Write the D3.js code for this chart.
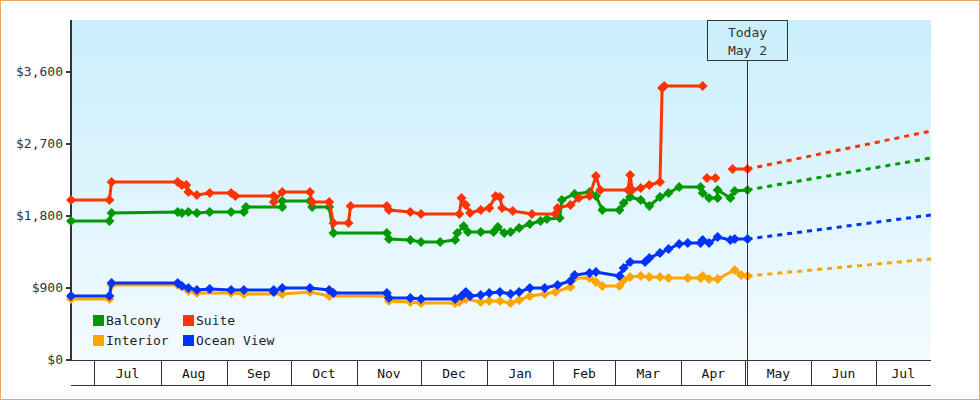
<!DOCTYPE html>
<html><head><meta charset="utf-8">
<script src="https://cdn.jsdelivr.net/npm/d3@7"></script>
<style>body{margin:0;background:#fff}svg{display:block;font-family:"DejaVu Sans Mono",monospace}</style>
</head><body><svg id="c" width="980" height="400"></svg>
<script>
const balcony = [["2023-06-20",1737],["2023-07-08",1737],["2023-07-09",1837],["2023-08-09",1850],["2023-08-11",1837],["2023-08-14",1850],["2023-08-18",1837],["2023-08-24",1850],["2023-09-03",1850],["2023-09-09",1850],["2023-09-10",1912],["2023-09-27",1912],["2023-09-27",1987],["2023-10-10",1987],["2023-10-11",1912],["2023-10-19",1912],["2023-10-21",1587],["2023-11-15",1587],["2023-11-16",1512],["2023-11-26",1500],["2023-12-01",1475],["2023-12-10",1475],["2023-12-17",1500],["2023-12-18",1587],["2023-12-21",1675],["2023-12-23",1600],["2023-12-29",1600],["2024-01-04",1600],["2024-01-06",1662],["2024-01-09",1587],["2024-01-12",1600],["2024-01-16",1650],["2024-01-21",1700],["2024-01-26",1737],["2024-01-29",1762],["2024-02-04",1775],["2024-02-05",2000],["2024-02-11",2075],["2024-02-18",2100],["2024-02-21",2050],["2024-02-24",1875],["2024-03-03",1875],["2024-03-05",1962],["2024-03-08",2037],["2024-03-13",2000],["2024-03-17",1925],["2024-03-22",2037],["2024-03-26",2087],["2024-03-31",2162],["2024-04-10",2162],["2024-04-11",2087],["2024-04-14",2025],["2024-04-18",2025],["2024-04-18",2125],["2024-04-24",2025],["2024-04-26",2112],["2024-05-02",2125]];
const suite = [["2023-06-20",2000],["2023-07-08",2000],["2023-07-09",2225],["2023-08-09",2225],["2023-08-11",2187],["2023-08-13",2187],["2023-08-14",2100],["2023-08-18",2062],["2023-08-24",2087],["2023-09-03",2087],["2023-09-05",2050],["2023-09-23",2050],["2023-09-23",1975],["2023-09-27",2100],["2023-10-10",2100],["2023-10-11",1975],["2023-10-19",1975],["2023-10-21",1712],["2023-10-28",1712],["2023-10-29",1925],["2023-11-15",1925],["2023-11-16",1875],["2023-11-26",1850],["2023-12-01",1825],["2023-12-19",1825],["2023-12-20",2025],["2023-12-22",1937],["2023-12-24",1837],["2023-12-29",1875],["2024-01-02",1900],["2024-01-05",2050],["2024-01-07",2037],["2024-01-08",1900],["2024-01-13",1862],["2024-01-22",1825],["2024-02-02",1825],["2024-02-03",1900],["2024-02-09",1937],["2024-02-13",2025],["2024-02-18",2050],["2024-02-21",2300],["2024-02-23",2125],["2024-03-07",2125],["2024-03-08",2312],["2024-03-09",2125],["2024-03-13",2150],["2024-03-17",2187],["2024-03-22",2225],["2024-03-23",3400],["2024-03-24",3425],["2024-04-11",3425],null,["2024-04-13",2275],["2024-04-17",2275],null,["2024-04-25",2387],["2024-05-02",2387]];
const oceanView = [["2023-06-20",800],["2023-07-08",800],["2023-07-09",962],["2023-08-09",962],["2023-08-11",925],["2023-08-14",900],["2023-08-18",875],["2023-08-24",887],["2023-09-03",875],["2023-09-09",875],["2023-09-23",875],["2023-09-23",850],["2023-09-27",900],["2023-10-10",900],["2023-10-19",875],["2023-10-21",837],["2023-11-15",837],["2023-11-16",775],["2023-11-26",775],["2023-12-01",762],["2023-12-17",762],["2023-12-20",800],["2023-12-22",850],["2023-12-24",800],["2023-12-29",812],["2024-01-02",837],["2024-01-07",850],["2024-01-12",825],["2024-01-16",850],["2024-01-21",900],["2024-01-28",900],["2024-02-03",937],["2024-02-09",987],["2024-02-11",1062],["2024-02-18",1087],["2024-02-21",1100],["2024-03-03",1050],["2024-03-05",1150],["2024-03-08",1225],["2024-03-15",1225],["2024-03-17",1275],["2024-03-22",1337],["2024-03-26",1387],["2024-03-31",1450],["2024-04-04",1462],["2024-04-10",1462],["2024-04-11",1500],["2024-04-14",1462],["2024-04-18",1537],["2024-04-24",1500],["2024-04-26",1512],["2024-05-02",1512]];
const interior = [["2023-06-20",762],["2023-07-08",762],["2023-07-09",937],["2023-08-09",937],["2023-08-14",862],["2023-08-18",837],["2023-09-03",837],["2023-09-09",825],["2023-09-27",825],["2023-10-10",850],["2023-10-19",800],["2023-11-15",800],["2023-11-16",737],["2023-11-26",725],["2023-12-01",712],["2023-12-17",712],["2023-12-19",725],["2023-12-22",762],["2023-12-29",725],["2024-01-02",737],["2024-01-07",737],["2024-01-12",712],["2024-01-16",750],["2024-01-21",800],["2024-01-28",825],["2024-02-02",850],["2024-02-09",912],["2024-02-11",1025],["2024-02-18",1025],["2024-02-21",975],["2024-02-24",925],["2024-03-03",925],["2024-03-05",1000],["2024-03-08",1037],["2024-03-13",1050],["2024-03-17",1037],["2024-03-22",1037],["2024-03-26",1025],["2024-04-04",1025],["2024-04-10",1025],["2024-04-11",1050],["2024-04-14",1012],["2024-04-18",1012],["2024-04-26",1125],["2024-04-29",1062],["2024-05-02",1050]];
const forecast = {Balcony:[["2024-05-02",2125],["2024-07-27",2525]],Suite:[["2024-05-02",2387],["2024-07-27",2862]],"Ocean View":[["2024-05-02",1512],["2024-07-27",1812]],Interior:[["2024-05-02",1050],["2024-07-27",1262]]};
const yTicks = [0,900,1800,2700,3600];
const monthTicks = ["2023-07-01","2023-08-01","2023-09-01","2023-10-01","2023-11-01","2023-12-01","2024-01-01","2024-02-01","2024-03-01","2024-04-01","2024-05-01","2024-06-01","2024-07-01"];
const today = "2024-05-02";
const series = [["Balcony",balcony,"#009900"],["Suite",suite,"#ff3300"],["Interior",interior,"#ffa500"],["Ocean View",oceanView,"#0033ff"]];

const P = d3.timeParse("%Y-%m-%d");
const svg = d3.select("#c");
const L=71,R=931,T=20,B=360;
const x = d3.scaleTime().domain([P("2023-06-20"),P("2024-07-27")]).range([L,R]);
const y = d3.scaleLinear().domain([0,4250]).range([B,T]);

svg.append("rect").attr("x",0.5).attr("y",0.5).attr("width",979).attr("height",399).attr("fill","#fff").attr("stroke","#e8a860");
const g = svg.append("defs").append("linearGradient").attr("id","bg").attr("x1",0).attr("x2",0).attr("y1",0).attr("y2",1);
g.append("stop").attr("offset",0).attr("stop-color","#c9eefc");
g.append("stop").attr("offset",1).attr("stop-color","#f4fbff");
svg.append("rect").attr("x",L).attr("y",T).attr("width",R-L).attr("height",B-T).attr("fill","url(#bg)");

svg.append("line").attr("x1",L).attr("x2",L).attr("y1",T).attr("y2",B).attr("stroke","#333").attr("stroke-width",2);
yTicks.forEach(v=>{
  svg.append("line").attr("x1",L-5).attr("x2",L).attr("y1",y(v)).attr("y2",y(v)).attr("stroke","#333").attr("stroke-width",2);
  svg.append("text").attr("x",L-8).attr("y",y(v)+4).attr("text-anchor","end").attr("font-size",13).attr("fill","#333").text(d3.format("$,")(v));
});
svg.append("line").attr("x1",L).attr("x2",R).attr("y1",B+0.5).attr("y2",B+0.5).attr("stroke","#333");
svg.append("line").attr("x1",L).attr("x2",R).attr("y1",385.5).attr("y2",385.5).attr("stroke","#333");
const md = monthTicks.map(P);
md.forEach((d,i)=>{
  svg.append("line").attr("x1",Math.round(x(d))+0.5).attr("x2",Math.round(x(d))+0.5).attr("y1",B).attr("y2",385).attr("stroke","#333");
  const next = i<md.length-1?x(md[i+1]):R;
  svg.append("text").attr("x",(x(d)+next)/2).attr("y",378).attr("text-anchor","middle").attr("font-size",13).attr("fill","#111").text(d3.timeFormat("%b")(d));
});

const line = d3.line().defined(d=>d).x(d=>x(P(d[0]))).y(d=>y(d[1]));
const marker = d3.symbol().type(d3.symbolSquare).size(50);
series.forEach(([name,data,col])=>{
  svg.append("path").attr("d",line(forecast[name])).attr("fill","none").attr("stroke",col).attr("stroke-width",3).attr("stroke-dasharray","5,5");
  svg.append("path").attr("d",line(data)).attr("fill","none").attr("stroke",col).attr("stroke-width",3);
  svg.selectAll(null).data(data.filter(d=>d)).join("path").attr("d",marker).attr("fill",col)
    .attr("transform",d=>`translate(${x(P(d[0]))},${y(d[1])}) rotate(45)`);
});

const tx = Math.round(x(P(today)))+0.5;
svg.append("line").attr("x1",tx).attr("x2",tx).attr("y1",60).attr("y2",385).attr("stroke","#333");
svg.append("rect").attr("x",tx-40).attr("y",20.5).attr("width",80).attr("height",40).attr("fill","none").attr("stroke","#333");
svg.append("text").attr("x",tx).attr("y",37).attr("text-anchor","middle").attr("font-size",13).attr("fill","#333").text("Today");
svg.append("text").attr("x",tx).attr("y",55).attr("text-anchor","middle").attr("font-size",13).attr("fill","#333").text("May 2");

series.forEach(([name,,col],i)=>{
  const lx = 93 + (i%2)*90, ly = 315 + Math.floor(i/2)*20;
  svg.append("rect").attr("x",lx).attr("y",ly).attr("width",11).attr("height",11).attr("fill",col);
  svg.append("text").attr("x",lx+13).attr("y",ly+10).attr("font-size",13).attr("fill","#222").text(name);
});
</script></body></html>
